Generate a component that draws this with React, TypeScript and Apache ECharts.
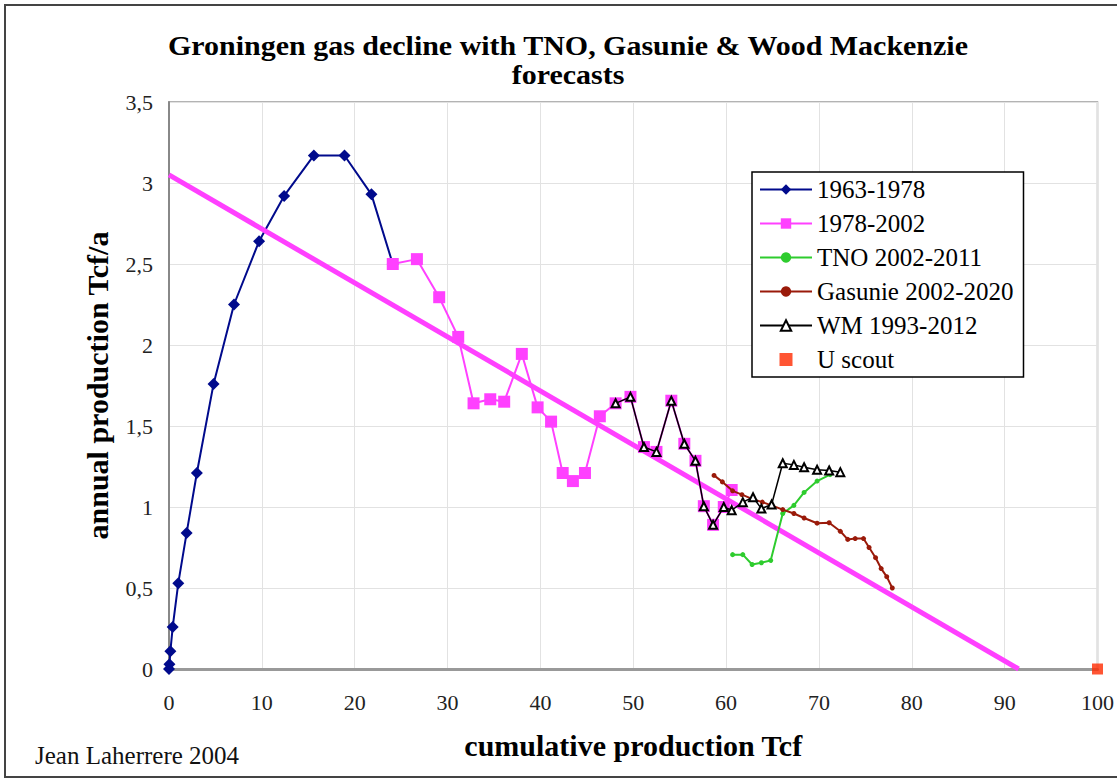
import React, { useEffect, useRef } from "react";
import * as echarts from "echarts";

const xTicks = [0, 10, 20, 30, 40, 50, 60, 70, 80, 90, 100];
const yTicks = ["0", "0,5", "1", "1,5", "2", "2,5", "3", "3,5"];

const series1963 = [
  [0, 0], [0.05, 0.03], [0.15, 0.11], [0.4, 0.26], [1.0, 0.53], [1.9, 0.84],
  [3.0, 1.21], [4.8, 1.76], [7.0, 2.25], [9.7, 2.64], [12.4, 2.92],
  [15.6, 3.17], [18.9, 3.17], [21.8, 2.93], [24.1, 2.5],
];

const series1978 = [
  [24.1, 2.5], [26.7, 2.53], [29.1, 2.295], [31.15, 2.05], [32.8, 1.64],
  [34.6, 1.665], [36.1, 1.65], [38.0, 1.945], [39.7, 1.615], [41.15, 1.527],
  [42.4, 1.21], [43.5, 1.16], [44.8, 1.21], [46.4, 1.56], [48.1, 1.64],
  [49.7, 1.68], [51.15, 1.37], [52.5, 1.34], [54.1, 1.656], [55.5, 1.39],
  [56.7, 1.285], [57.6, 1.005], [58.6, 0.89], [59.75, 1.0], [60.6, 1.105],
];

const seriesTNO = [
  [60.7, 0.706], [61.8, 0.706], [62.8, 0.645], [63.8, 0.656], [64.8, 0.67],
  [66.1, 0.96], [67.3, 1.01], [68.4, 1.09], [69.8, 1.16], [71.2, 1.2],
];

const seriesGasunie = [
  [58.7, 1.195], [59.6, 1.155], [60.7, 1.1], [61.7, 1.076], [62.8, 1.05],
  [63.9, 1.03], [64.9, 1.01], [66.1, 0.984], [67.3, 0.96], [68.4, 0.932],
  [69.8, 0.9], [71.1, 0.903], [72.3, 0.85], [73.1, 0.8], [73.9, 0.805],
  [74.8, 0.805], [75.4, 0.75], [76.1, 0.687], [76.7, 0.62], [77.3, 0.57],
  [77.9, 0.5],
];

const seriesWM = [
  [48.1, 1.64], [49.7, 1.68], [51.15, 1.37], [52.5, 1.34], [54.1, 1.656],
  [55.5, 1.39], [56.7, 1.285], [57.6, 1.005], [58.6, 0.89], [59.75, 1.0],
  [60.6, 0.98], [61.8, 1.03], [62.9, 1.06], [63.8, 0.99], [64.9, 1.015],
  [66.1, 1.27], [67.3, 1.26], [68.4, 1.245], [69.8, 1.23], [71.1, 1.225],
  [72.3, 1.215],
];

const seriesUScout = [[100, 0]];
const trendLine = [[0, 3.05], [91.5, 0]];

const legendNames = [
  "1963-1978",
  "1978-2002",
  "TNO 2002-2011",
  "Gasunie 2002-2020",
  "WM 1993-2012",
  "U scout",
];

const FONT = "'Liberation Serif', 'Times New Roman', serif";

export default function App() {
  const ref = useRef<HTMLDivElement>(null);

  useEffect(() => {
    if (!ref.current) return;
    const chart = echarts.init(ref.current, null, { renderer: "svg" });
    const option = {
      animation: false,
      backgroundColor: "#ffffff",
      textStyle: { fontFamily: FONT },
      grid: {
        left: 169,
        right: 17,
        top: 102,
        bottom: 112,
        show: true,
        borderColor: "#9a9a9a",
        borderWidth: 1.5,
      },
      graphic: [
        {
          type: "rect",
          shape: { x: 5, y: 5, width: 1130, height: 772 },
          style: { fill: "none", stroke: "#444", lineWidth: 2 },
          silent: true,
        },
        {
          type: "text",
          x: 568,
          y: 46,
          scaleX: 1.11,
          style: {
            text: "Groningen gas decline with TNO, Gasunie & Wood Mackenzie",
            font: `bold 27px ${FONT}`,
            fill: "#000",
            textAlign: "center",
            textVerticalAlign: "middle",
          },
        },
        {
          type: "text",
          x: 568,
          y: 75,
          scaleX: 1.11,
          style: {
            text: "forecasts",
            font: `bold 27px ${FONT}`,
            fill: "#000",
            textAlign: "center",
            textVerticalAlign: "middle",
          },
        },
        {
          type: "text",
          x: 35,
          y: 755,
          style: {
            text: "Jean Laherrere 2004",
            font: `25px ${FONT}`,
            fill: "#111",
            textAlign: "left",
            textVerticalAlign: "middle",
          },
        },
      ],
      legend: {
        data: legendNames.map((n) =>
          n === "U scout" ? { name: n, icon: "path://M0,0L10,0L10,10L0,10Z" } : { name: n }
        ),
        orient: "vertical",
        left: 752,
        top: 172,
        itemWidth: 52,
        itemHeight: 13,
        itemGap: 9,
        padding: [5, 10, 5, 7],
        borderColor: "#000",
        borderWidth: 1.5,
        backgroundColor: "#fff",
        symbolKeepAspect: true,
        textStyle: { fontFamily: FONT, fontSize: 25, color: "#000" },
      },
      xAxis: {
        type: "value",
        min: 0,
        max: 100,
        interval: 10,
        name: "cumulative production Tcf",
        nameLocation: "middle",
        nameGap: 61,
        nameTextStyle: { fontFamily: FONT, fontSize: 30, fontWeight: "bold", color: "#000" },
        axisLine: { show: true, lineStyle: { color: "#999", width: 3 } },
        axisTick: { show: false },
        axisLabel: {
          margin: 22,
          fontFamily: FONT,
          fontSize: 22,
          color: "#222",
          formatter: (v: number) => (xTicks.includes(v) ? String(v) : ""),
        },
        splitLine: { show: true, lineStyle: { color: "#e2e2e2", width: 1 } },
      },
      yAxis: {
        type: "value",
        min: 0,
        max: 3.5,
        interval: 0.5,
        name: "annual production Tcf/a",
        nameLocation: "middle",
        nameGap: 57,
        nameRotate: 90,
        nameTextStyle: { fontFamily: FONT, fontSize: 30, fontWeight: "bold", color: "#000" },
        axisLine: { show: true, lineStyle: { color: "#888", width: 2 } },
        axisTick: { show: false },
        axisLabel: {
          margin: 16,
          fontFamily: FONT,
          fontSize: 22,
          color: "#222",
          formatter: (v: number) => yTicks[Math.round(v / 0.5)] ?? "",
        },
        splitLine: { show: true, lineStyle: { color: "#e2e2e2", width: 1 } },
      },
      series: [
        {
          name: "1963-1978",
          type: "line",
          data: series1963,
          symbol: "diamond",
          symbolSize: 12,
          itemStyle: { color: "#000a8c" },
          lineStyle: { color: "#000a8c", width: 2 },
          z: 3,
        },
        {
          name: "trend",
          type: "line",
          data: trendLine,
          symbol: "none",
          lineStyle: { color: "#ff40ff", width: 5 },
          z: 4,
          silent: true,
        },
        {
          name: "1978-2002",
          type: "line",
          data: series1978,
          symbol: "rect",
          symbolSize: 12,
          itemStyle: { color: "#ff40ff" },
          lineStyle: { color: "#ff40ff", width: 2 },
          z: 5,
        },
        {
          name: "TNO 2002-2011",
          type: "line",
          data: seriesTNO,
          symbol: "circle",
          symbolSize: 5,
          itemStyle: { color: "#2ecc2e" },
          lineStyle: { color: "#2ecc2e", width: 2 },
          z: 6,
        },
        {
          name: "Gasunie 2002-2020",
          type: "line",
          data: seriesGasunie,
          symbol: "circle",
          symbolSize: 5,
          itemStyle: { color: "#9a1a0a" },
          lineStyle: { color: "#9a1a0a", width: 2 },
          z: 6,
        },
        {
          name: "WM 1993-2012",
          type: "line",
          data: seriesWM,
          symbol: "emptyTriangle",
          symbolSize: 8,
          itemStyle: { color: "#000", borderColor: "#000", borderWidth: 1.2 },
          lineStyle: { color: "#000", width: 1.5 },
          z: 7,
        },
        {
          name: "U scout",
          type: "scatter",
          data: seriesUScout,
          symbol: "rect",
          symbolSize: 11,
          itemStyle: { color: "#ff2a00" },
          z: 8,
        },
      ],
    };
    chart.setOption(option as any);
    return () => chart.dispose();
  }, []);

  return (
    <div
      ref={ref}
      style={{ position: "fixed", left: 0, top: 0, width: 1117, height: 781 }}
    />
  );
}
